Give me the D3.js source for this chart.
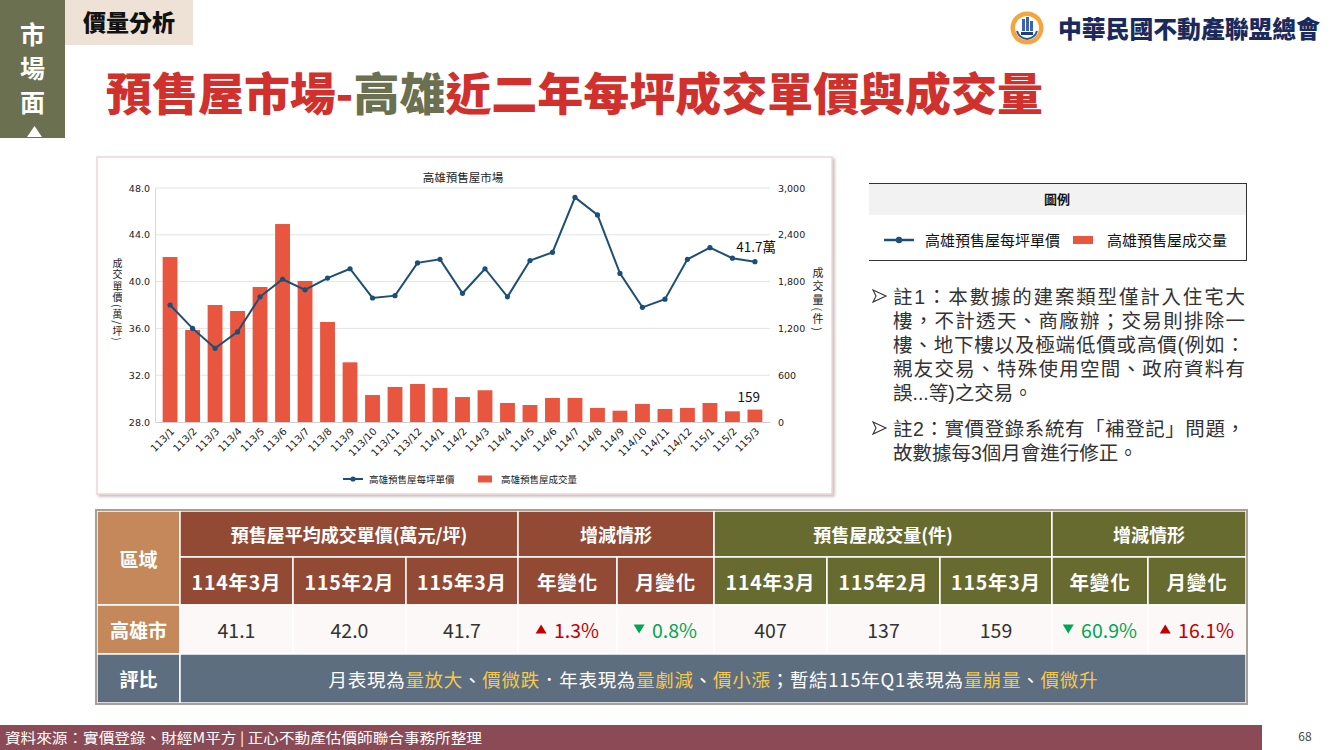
<!DOCTYPE html>
<html><head><meta charset="utf-8">
<script src="https://cdn.jsdelivr.net/npm/d3@7"></script>
<style>
body{margin:0;background:#fff;}
#wrap{position:relative;width:1330px;height:750px;}
svg{display:block;font-family:"Noto Sans CJK TC","Noto Sans",sans-serif;}
.vt{position:absolute;writing-mode:vertical-rl;text-orientation:mixed;font-family:"Noto Sans CJK TC",sans-serif;color:#222;line-height:1;white-space:nowrap;}
.nl{position:absolute;left:893px;height:24px;line-height:24px;font-size:19.5px;color:#333;font-family:"Liberation Sans","Noto Sans CJK TC",sans-serif;white-space:nowrap;overflow:visible;}
.nl.j{width:352px;text-align:justify;text-align-last:justify;}
</style></head><body>
<div id="wrap"><svg id="s" width="1330" height="750"></svg></div>
<script>
// ---------- data ----------
const months = ["113/1","113/2","113/3","113/4","113/5","113/6","113/7","113/8","113/9","113/10","113/11","113/12",
  "114/1","114/2","114/3","114/4","114/5","114/6","114/7","114/8","114/9","114/10","114/11","114/12","115/1","115/2","115/3"];
const price = [38.0,36.0,34.3,35.7,38.7,40.2,39.3,40.3,41.1,38.6,38.8,41.6,41.9,39.0,41.1,38.7,41.8,42.5,47.2,45.7,40.7,37.8,38.5,41.9,42.9,42.0,41.7];
const volume = [2115,1180,1500,1423,1731,2538,1808,1282,765,346,449,487,436,320,407,244,218,308,308,180,145,231,167,180,244,137,159];
const leftTicks = [28,32,36,40,44,48];
const rightTicks = [0,600,1200,1800,2400,3000];
const seriesNames = ["高雄預售屋每坪單價","高雄預售屋成交量"];
const leftTitle = "成交單價(萬/坪)";
const rightTitle = "成交量(件)";
const tableGroups = ["預售屋平均成交單價(萬元/坪)","增減情形","預售屋成交量(件)","增減情形"];
const tableSub = ["114年3月","115年2月","115年3月","年變化","月變化","114年3月","115年2月","115年3月","年變化","月變化"];
const tableVals = ["41.1","42.0","41.7","1.3%","0.8%","407","137","159","60.9%","16.1%"];
const tableDir = [null,null,null,"up","down",null,null,null,"down","up"];
const comment = [["月表現為",0],["量放大",1],["、",0],["價微跌",1],["．年表現為",0],["量劇減",1],["、",0],["價小漲",1],["；暫結115年Q1表現為",0],["量崩量",1],["、",0],["價微升",1]];
const notes = [
  ["➢","註1：本數據的建案類型僅計入住宅大"],
  ["","樓，不計透天、商廠辦；交易則排除一"],
  ["","樓、地下樓以及極端低價或高價(例如："],
  ["","親友交易、特殊使用空間、政府資料有"],
  ["","誤...等)之交易。"],
  ["➢","註2：實價登錄系統有「補登記」問題，"],
  ["","故數據每3個月會進行修正。"]
];

const svg = d3.select("#s");
const wrap = d3.select("#wrap");
const defs = svg.append("defs");
const f = defs.append("filter").attr("id","sh").attr("x","-5%").attr("y","-5%").attr("width","115%").attr("height","115%");
f.append("feDropShadow").attr("dx",2).attr("dy",2).attr("stdDeviation",1.6).attr("flood-color","#888").attr("flood-opacity",0.55);

// ---------- header ----------
svg.append("rect").attr("x",0).attr("y",0).attr("width",65).attr("height",138).attr("fill","#6b7150");
["市","場","面"].forEach((c,i)=>svg.append("text").attr("x",32.5).attr("y",44+i*34)
  .attr("text-anchor","middle").attr("fill","#fff").attr("font-size",25).attr("font-weight",700).text(c));
svg.append("polygon").attr("points","34.5,126 27,137 42,137").attr("fill","#fff");
svg.append("rect").attr("x",65).attr("y",0).attr("width",128).attr("height",45).attr("fill","#ede2d5");
svg.append("text").attr("x",83).attr("y",31).attr("font-size",23).attr("font-weight",900).attr("fill","#111").text("價量分析");

const title = svg.append("text").attr("x",106).attr("y",111).attr("font-size",45).attr("font-weight",900)
  .attr("textLength",937).attr("lengthAdjust","spacingAndGlyphs");
title.append("tspan").attr("fill","#d0312d").text("預售屋市場-");
title.append("tspan").attr("fill","#6b7150").text("高雄");
title.append("tspan").attr("fill","#d0312d").text("近二年每坪成交單價與成交量");

// logo
const lg = svg.append("g");
lg.append("circle").attr("cx",1027).attr("cy",28).attr("r",16.5).attr("fill","#f5a540");
lg.append("circle").attr("cx",1027).attr("cy",28).attr("r",12).attr("fill","#fff");
lg.append("path").attr("d","M1017,31 Q1019,38 1027,39 Q1035,38 1037,31").attr("fill","none").attr("stroke","#2f5a9e").attr("stroke-width",2);
lg.append("rect").attr("x",1022).attr("y",19).attr("width",3).attr("height",12).attr("fill","#3a63b0");
lg.append("rect").attr("x",1026).attr("y",17).attr("width",3).attr("height",14).attr("fill","#3a63b0");
lg.append("rect").attr("x",1030).attr("y",21).attr("width",3).attr("height",10).attr("fill","#3a63b0");
lg.append("rect").attr("x",1021).attr("y",32).attr("width",12).attr("height",3).attr("fill","#1f3d7a");
lg.append("text").attr("x",1058).attr("y",38).attr("font-size",24).attr("font-weight",900).attr("fill","#1b2a5c")
  .attr("textLength",262).attr("lengthAdjust","spacingAndGlyphs").text("中華民國不動產聯盟總會");

// ---------- chart ----------
svg.append("rect").attr("x",97).attr("y",157).attr("width",735).attr("height",337).attr("fill","#fff")
  .attr("stroke","#efd6d8").attr("stroke-width",1.5).attr("filter","url(#sh)");
const pl = 155, pr = 770, pt = 188, pb = 422;
const x = d3.scaleBand().domain(months).range([pl,pr]).padding(0.34);
const yL = d3.scaleLinear().domain([28,48]).range([pb,pt]);
const yR = d3.scaleLinear().domain([0,3000]).range([pb,pt]);
const ch = svg.append("g");

ch.append("text").attr("x",463).attr("y",182).attr("text-anchor","middle").attr("font-size",11.5).attr("fill","#222").text("高雄預售屋市場");
// grid
ch.append("g").selectAll("line").data(leftTicks.slice(1)).join("line")
  .attr("x1",pl).attr("x2",pr).attr("y1",d=>yL(d)).attr("y2",d=>yL(d)).attr("stroke","#e3e3e3").attr("stroke-width",1);
// left axis
const ax = d3.axisLeft(yL).tickValues(leftTicks).tickFormat(d3.format(".1f")).tickSize(0).tickPadding(5);
const gL = ch.append("g").attr("transform",`translate(${pl},0)`).call(ax);
gL.select(".domain").attr("stroke","#d9d9d9");
gL.selectAll("text").attr("font-size",9.5).attr("fill","#222").attr("font-family","'DejaVu Sans',sans-serif");
// right axis
const axR = d3.axisRight(yR).tickValues(rightTicks).tickFormat(d3.format(",")).tickSize(0).tickPadding(8);
const gR = ch.append("g").attr("transform",`translate(${pr},0)`).call(axR);
gR.select(".domain").remove();
gR.selectAll("text").attr("font-size",9.5).attr("fill","#222").attr("font-family","'DejaVu Sans',sans-serif");
// bars
ch.append("g").selectAll("rect").data(volume).join("rect")
  .attr("x",(d,i)=>x(months[i])).attr("width",x.bandwidth())
  .attr("y",d=>yR(d)).attr("height",d=>pb-yR(d)).attr("fill","#e8563f");
// x axis
const axB = d3.axisBottom(x).tickSize(0).tickPadding(0);
const gB = ch.append("g").attr("transform",`translate(0,${pb})`).call(axB);
gB.select(".domain").attr("stroke","#d0d0d0");
gB.selectAll("text").attr("font-size",10).attr("fill","#222").attr("font-family","'DejaVu Sans',sans-serif")
  .attr("text-anchor","end").attr("dy",0).attr("transform","translate(5,10) rotate(-45)");
// line
const line = d3.line().x((d,i)=>x(months[i])+x.bandwidth()/2).y(d=>yL(d));
ch.append("path").datum(price).attr("d",line).attr("fill","none").attr("stroke","#1d4f76").attr("stroke-width",2);
ch.append("g").selectAll("circle").data(price).join("circle")
  .attr("cx",(d,i)=>x(months[i])+x.bandwidth()/2).attr("cy",d=>yL(d)).attr("r",2.6).attr("fill","#1d4f76");
// annotations
const li = months.length-1;
ch.append("text").attr("x",x(months[li])+x.bandwidth()/2+21).attr("y",yL(price[li])-10).attr("text-anchor","end")
  .attr("font-size",13.5).attr("fill","#111").text(price[li].toFixed(1)+"萬");
ch.append("text").attr("x",x(months[li])+x.bandwidth()/2+5).attr("y",yR(volume[li])-8).attr("text-anchor","end")
  .attr("font-size",13.5).attr("fill","#111").text(volume[li]);
// axis titles as vertical HTML text
wrap.append("div").attr("class","vt").style("left","112px").style("top","258px").style("font-size","10px")
  .style("letter-spacing","1.5px").text(leftTitle);
wrap.append("div").attr("class","vt").style("left","812px").style("top","267px").style("font-size","11px")
  .style("letter-spacing","2.5px").text(rightTitle);
// chart legend
ch.append("line").attr("x1",343).attr("x2",363).attr("y1",479).attr("y2",479).attr("stroke","#1d4f76").attr("stroke-width",2);
ch.append("circle").attr("cx",353).attr("cy",479).attr("r",2.6).attr("fill","#1d4f76");
ch.append("text").attr("x",369).attr("y",482.5).attr("font-size",9.5).attr("fill","#222").text(seriesNames[0]);
ch.append("rect").attr("x",478).attr("y",475.5).attr("width",14).attr("height",7).attr("fill","#e8563f");
ch.append("text").attr("x",501).attr("y",482.5).attr("font-size",9.5).attr("fill","#222").text(seriesNames[1]);

// ---------- legend box ----------
const lb = svg.append("g");
lb.append("rect").attr("x",869).attr("y",183).attr("width",378).attr("height",32).attr("fill","#f2f2f2");
lb.append("line").attr("x1",869).attr("x2",1247).attr("y1",183.5).attr("y2",183.5).attr("stroke","#333");
lb.append("line").attr("x1",869).attr("x2",1247).attr("y1",260.5).attr("y2",260.5).attr("stroke","#333");
lb.append("line").attr("x1",1246.5).attr("x2",1246.5).attr("y1",183).attr("y2",261).attr("stroke","#333");
lb.append("text").attr("x",1057).attr("y",204).attr("text-anchor","middle").attr("font-size",13).attr("font-weight",700).attr("fill","#111").text("圖例");
lb.append("line").attr("x1",884).attr("x2",914).attr("y1",240).attr("y2",240).attr("stroke","#1d4f76").attr("stroke-width",2.5);
lb.append("circle").attr("cx",899).attr("cy",240).attr("r",3.2).attr("fill","#1d4f76");
lb.append("text").attr("x",925).attr("y",245.5).attr("font-size",15).attr("fill","#111").text(seriesNames[0]);
lb.append("rect").attr("x",1073).attr("y",236).attr("width",20).attr("height",8).attr("fill","#e8563f");
lb.append("text").attr("x",1107).attr("y",245.5).attr("font-size",15).attr("fill","#111").text(seriesNames[1]);

// ---------- notes (HTML lines, non-overlapping boxes) ----------
const ny = [303,327,351,375,399,435,459];
notes.forEach((n,i)=>{
  if(n[0]){
    const ay = ny[i]-7;
    svg.append("path").attr("d",`M873,${ay-6} L886,${ay} L873,${ay+6} L876,${ay} Z`).attr("fill","none").attr("stroke","#333").attr("stroke-width",1.1);
  }
  wrap.append("div").attr("class","nl"+((i<4||i===5)?" j":"")).style("top",(ny[i]-18)+"px").text(n[1]);
});

// ---------- table ----------
const cx = [97,180,293,406,518,617,714,827,940,1052,1148,1246];
const ry = [511,557,605,654,703];
const C = {tan:"#c4885a",brown:"#934a35",olive:"#676b30",slate:"#5d6e80",cell:"#fcf8f7"};
const tb = svg.append("g");
function cell(x0,x1,y0,y1,fill){tb.append("rect").attr("x",x0).attr("y",y0).attr("width",x1-x0).attr("height",y1-y0)
  .attr("fill",fill).attr("stroke","#fff").attr("stroke-width",1.5);}
function txt(xm,ym,s,size,col,w){return tb.append("text").attr("x",xm).attr("y",ym).attr("text-anchor","middle")
  .attr("dominant-baseline","central").attr("font-size",size).attr("fill",col).attr("font-weight",w||400).text(s);}
cell(cx[0],cx[1],ry[0],ry[2],C.tan); txt((cx[0]+cx[1])/2,(ry[0]+ry[2])/2,"區域",19,"#fff",700);
const groups = [[1,4,C.brown],[4,6,C.brown],[6,9,C.olive],[9,11,C.olive]];
groups.forEach((g,i)=>{cell(cx[g[0]],cx[g[1]],ry[0],ry[1],g[2]);
  txt((cx[g[0]]+cx[g[1]])/2,(ry[0]+ry[1])/2,tableGroups[i],18,"#fff",700);});
tableSub.forEach((s,i)=>{const col=i<5?C.brown:C.olive; cell(cx[i+1],cx[i+2],ry[1],ry[2],col);
  txt((cx[i+1]+cx[i+2])/2,(ry[1]+ry[2])/2,s,19.5,"#fff",700).attr("letter-spacing",0.8);});
cell(cx[0],cx[1],ry[2],ry[3],C.tan); txt((cx[0]+cx[1])/2,(ry[2]+ry[3])/2,"高雄市",19,"#fff",700);
tableVals.forEach((v,i)=>{cell(cx[i+1],cx[i+2],ry[2],ry[3],C.cell);
  const xm=(cx[i+1]+cx[i+2])/2, ym=(ry[2]+ry[3])/2;
  if(tableDir[i]){
    const col = tableDir[i]==="up"?"#c00000":"#00a651";
    const t = txt(xm+9,ym,v,19.5,col);
    const w = v.length*10.7; const ax0 = xm+9-w/2-14;
    const pts = tableDir[i]==="up"?`${ax0},${ym-5} ${ax0-5.5},${ym+4} ${ax0+5.5},${ym+4}`:`${ax0},${ym+4} ${ax0-5.5},${ym-5} ${ax0+5.5},${ym-5}`;
    tb.append("polygon").attr("points",pts).attr("fill",col);
  } else txt(xm,ym,v,19.5,"#333");
});
cell(cx[0],cx[1],ry[3],ry[4],C.slate); txt((cx[0]+cx[1])/2,(ry[3]+ry[4])/2,"評比",19,"#fff",700);
cell(cx[1],cx[11],ry[3],ry[4],C.slate);
const ct = tb.append("text").attr("x",713).attr("y",(ry[3]+ry[4])/2).attr("text-anchor","middle").attr("dominant-baseline","central")
  .attr("font-size",18.5).attr("textLength",769).attr("lengthAdjust","spacing");
comment.forEach(c=>ct.append("tspan").attr("fill",c[1]?"#f7c948":"#fff").text(c[0]));
tb.append("rect").attr("x",96).attr("y",510).attr("width",1151).attr("height",194).attr("fill","none").attr("stroke","#a89f96").attr("stroke-width",2);

// ---------- footer ----------
svg.append("rect").attr("x",0).attr("y",725).attr("width",1262).attr("height",25).attr("fill","#8a4b56");
svg.append("text").attr("x",5).attr("y",743).attr("font-size",14).attr("fill","#fff").attr("textLength",477).attr("lengthAdjust","spacingAndGlyphs")
  .text("資料來源：實價登錄、財經M平方 | 正心不動產估價師聯合事務所整理");
svg.append("text").attr("x",1305).attr("y",741).attr("text-anchor","middle").attr("font-size",12).attr("fill","#444").text("68");
</script></body></html>
